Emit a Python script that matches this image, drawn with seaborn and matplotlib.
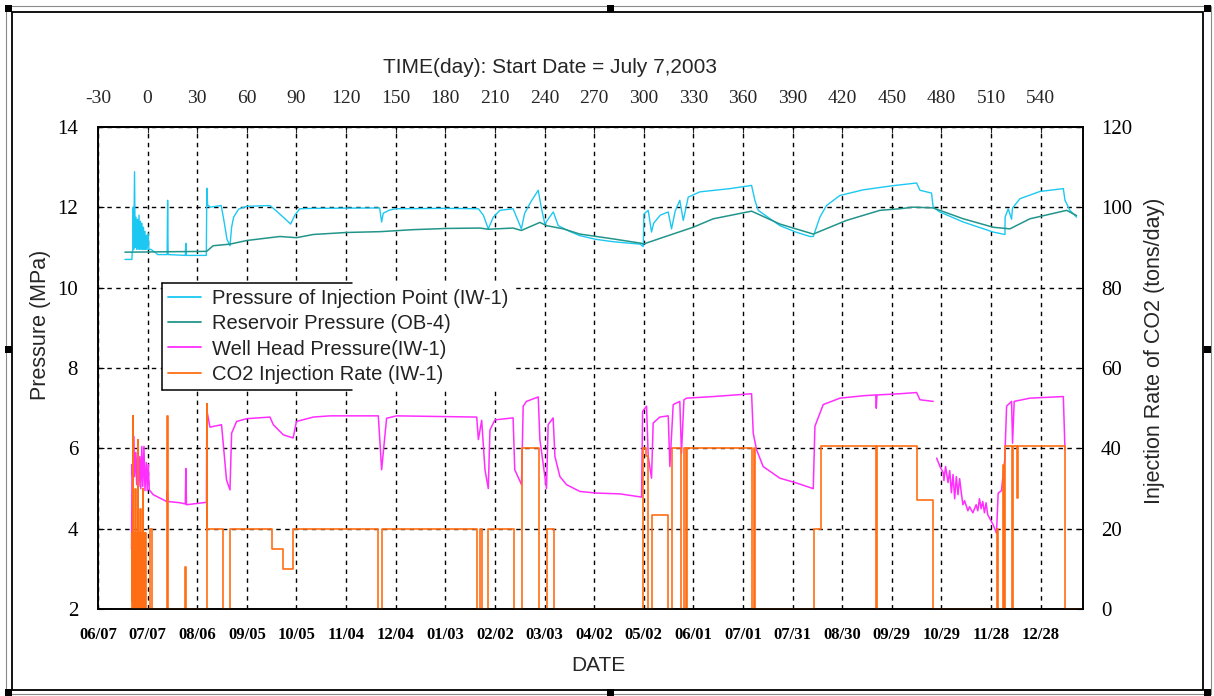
import numpy as np
import pandas as pd
import matplotlib
matplotlib.use("Agg")
import matplotlib.pyplot as plt
from matplotlib.lines import Line2D
from matplotlib.patches import Rectangle
import seaborn as sns

# ------------------------------------------------------------------ data
tick_days = [-30, 0, 30, 60, 90, 120, 150, 180, 210, 240, 270, 300, 330, 360,
             390, 420, 450, 480, 510, 540]
top_labels = [str(d) for d in tick_days]
date_labels = ["06/07", "07/07", "08/06", "09/05", "10/05", "11/04", "12/04",
               "01/03", "02/02", "03/03", "04/02", "05/02", "06/01", "07/01",
               "07/31", "08/30", "09/29", "10/29", "11/28", "12/28"]
p_ticks = [2, 4, 6, 8, 10, 12, 14]
r_ticks = [0, 20, 40, 60, 80, 100, 120]

series_names = ["Pressure of Injection Point (IW-1)", "Reservoir Pressure (OB-4)",
                "Well Head Pressure(IW-1)", "CO2 Injection Rate (IW-1)"]

# Pressure of injection point (MPa)
inj_days = [-13.7, -9.5, -9.3, -9.0, -8.7, -8.4, -7.9, -7.5, -7.0, -6.6, -6.1, -5.7,
            -5.2, -4.8, -4.3, -3.9, -3.4, -3.0, -2.5, -2.1, -1.6, -1.2, -0.7, -0.3,
            0.3, 0.8, 2.0, 5.4, 6.0, 11.8, 12.1, 12.4, 22.8, 23.1, 23.4, 35.5,
            35.8, 36.3, 38.0, 44.5, 46.0, 48.0, 49.8, 50.8, 52.0, 55.0, 60.0, 74.0,
            78.0, 82.0, 86.5, 89.0, 92.0, 100.0, 140.3, 141.5, 142.5, 146.5, 150.0,
            180.0, 200.0, 203.0, 206.0, 209.0, 213.0, 221.0, 226.0, 228.0, 232.0,
            236.2, 238.0, 240.2, 243.0, 245.3, 248.3, 255.0, 261.4, 271.0, 281.5,
            297.7, 299.7, 300.1, 302.7, 304.7, 306.0, 310.0, 314.8, 316.8, 319.0,
            321.8, 323.9, 326.9, 334.0, 352.0, 365.2, 367.2, 369.2, 382.3, 392.0,
            400.5, 402.5, 406.5, 410.5, 418.6, 432.7, 450.0, 465.0, 467.0, 474.0,
            475.0, 479.0, 493.2, 511.3, 518.4, 518.5, 520.4, 522.4, 523.0, 527.5,
            539.6, 553.7, 554.7, 557.7, 561.7]
inj_p = [10.70, 10.70, 10.90, 10.90, 12.00, 10.95, 12.88, 11.00, 11.75, 10.95, 11.70, 10.95,
         11.80, 10.95, 11.65, 10.95, 11.60, 10.95, 11.50, 10.95, 11.40, 10.95, 11.30, 10.95,
         11.35, 10.95, 10.95, 10.85, 10.82, 10.82, 12.17, 10.82, 10.80, 11.10, 10.80, 10.80,
         12.47, 12.05, 12.00, 12.04, 11.70, 11.20, 11.04, 11.50, 11.75, 11.95, 12.02, 12.04,
         11.90, 11.75, 11.58, 11.80, 11.96, 11.97, 11.98, 11.63, 11.85, 11.93, 11.96,
         11.97, 11.96, 11.80, 11.46, 11.75, 11.92, 11.96, 11.46, 11.85, 12.15,
         12.42, 12.00, 11.58, 11.75, 11.88, 11.54, 11.40, 11.29, 11.20, 11.14,
         11.08, 11.02, 11.83, 11.92, 11.38, 11.60, 11.80, 11.88, 11.46, 11.90,
         12.17, 11.67, 12.25, 12.38, 12.46, 12.54, 12.17, 11.92, 11.54, 11.38,
         11.27, 11.27, 11.75, 12.04, 12.29, 12.43, 12.53, 12.60, 12.42, 12.35,
         12.00, 11.88, 11.63, 11.38, 11.32, 11.75, 11.96, 11.70, 11.98, 12.21,
         12.39, 12.46, 12.17, 11.92, 11.75]

# Reservoir pressure (MPa)
res_days = [-13.7, 35.7, 39.6, 49.8, 59.9, 80.0, 90.0, 100.2, 120.3, 140.5, 160.6,
            180.8, 201.0, 206.0, 221.0, 226.0, 237.2, 241.2, 251.3, 261.4, 281.5,
            298.7, 299.7, 311.8, 329.9, 342.0, 365.2, 382.3, 402.5, 422.6, 442.8,
            454.9, 463.0, 475.0, 493.2, 511.3, 521.4, 533.5, 555.7, 561.7]
res_p = [10.88, 10.90, 11.04, 11.08, 11.17, 11.27, 11.24, 11.32, 11.37, 11.39, 11.44,
         11.47, 11.48, 11.45, 11.48, 11.42, 11.62, 11.54, 11.46, 11.33, 11.21,
         11.10, 11.08, 11.25, 11.50, 11.71, 11.90, 11.58, 11.33, 11.67, 11.92,
         11.96, 12.00, 11.98, 11.71, 11.50, 11.46, 11.71, 11.92, 11.79]

# Well head pressure (MPa), two recorded segments
wh1_days = [-9.7, -9.4, -8.9, -8.3, -7.9, -7.2, -6.6, -5.9, -5.3, -4.7, -4.1, -3.5,
            -2.9, -2.2, -1.6, -0.8, -0.2, 0.4, 1.0, 3.4, 11.5, 11.9, 12.3, 19.6,
            22.8, 23.1, 23.5, 35.6, 35.8, 37.7, 44.7, 47.7, 49.8, 50.8, 53.8, 59.9,
            74.0, 76.0, 82.0, 88.0, 90.0, 100.2, 110.2, 139.5, 141.5, 144.5, 150.5,
            199.0, 200.0, 202.0, 204.0, 206.0, 207.0, 210.0, 221.0, 222.0, 226.1,
            227.1, 229.1, 236.2, 237.2, 241.2, 242.2, 245.2, 246.3, 249.3, 253.3,
            261.4, 271.4, 285.6, 298.7, 299.3, 301.7, 302.7, 304.7, 305.7, 309.7,
            314.8, 315.8, 317.8, 321.8, 322.8, 324.3, 325.9, 342.0, 365.2, 366.2,
            368.2, 372.2, 382.3, 392.4, 402.5, 403.5, 408.5, 418.6, 432.7, 440.3,
            440.6, 441.0, 454.9, 465.0, 467.0, 475.0]
wh1_p = [3.50, 5.60, 5.20, 6.30, 5.30, 5.90, 5.10, 6.05, 5.05, 5.80, 5.00, 6.05,
         5.05, 6.05, 4.95, 5.65, 4.95, 5.60, 4.97, 4.85, 4.68, 4.95, 4.68, 4.65,
         4.62, 5.50, 4.60, 4.66, 6.95, 6.53, 6.59, 5.22, 4.97, 6.38, 6.67, 6.74,
         6.78, 6.59, 6.34, 6.26, 6.67, 6.78, 6.81, 6.81, 5.47, 6.75, 6.81,
         6.78, 6.22, 6.70, 5.47, 5.00, 6.46, 6.71, 6.76, 5.47, 5.10,
         7.05, 7.17, 7.28, 6.22, 5.00, 6.59, 6.76, 5.80, 5.30, 5.10,
         4.93, 4.89, 4.87, 4.79, 6.92, 7.05, 5.80, 5.26, 6.63, 6.78,
         6.81, 5.55, 7.09, 7.17, 5.88, 7.21, 7.25, 7.29, 7.36, 6.38,
         5.97, 5.55, 5.26, 5.14, 5.00, 6.55, 7.09, 7.25, 7.31, 7.33,
         7.00, 7.33, 7.36, 7.39, 7.21, 7.17]
wh2_days = [477.1, 479.1, 481.1, 481.5, 482.5, 484.0, 485.0, 486.0, 487.0, 488.0,
            489.0, 490.0, 491.0, 492.0, 493.0, 494.0, 496.0, 497.0, 499.0, 501.0,
            502.0, 503.0, 504.0, 505.0, 506.0, 507.0, 508.0, 510.0, 511.3, 513.3,
            514.3, 516.3, 518.3, 519.4, 522.4, 523.0, 524.0, 533.5, 553.7, 554.7]
wh2_p = [5.76, 5.55, 5.40, 5.20, 5.55, 5.15, 5.45, 4.90, 5.35, 4.75,
         5.30, 4.85, 5.25, 4.90, 4.60, 4.70, 4.45, 4.55, 4.40, 4.60,
         4.45, 4.75, 4.50, 4.68, 4.40, 4.65, 4.35, 4.20, 4.10, 3.89,
         4.89, 4.95, 5.72, 7.05, 7.17, 6.13, 7.17, 7.25, 7.29, 5.97]

# CO2 injection rate (tons/day), value held until next day
rate_days = [-9.7, -9.45, -9.2, -8.95, -8.7, -8.45, -8.2, -7.95, -7.7, -7.45,
             -7.2, -6.95, -6.7, -6.45, -6.2, -5.95, -5.7, -5.45, -5.2, -4.95,
             -4.7, -4.45, -4.2, -3.95, -3.7, -3.45, -3.2, -2.95, -2.7, -2.45,
             -2.2, -1.95, -1.7, -1.45, -1.2, -0.95, -0.7,
             1.4, 2.9, 11.9, 12.4, 22.9, 23.3, 35.7, 36.0, 45.8,
             49.8, 75.0, 81.6, 88.2, 139.5, 141.5, 199.0, 200.9, 202.3, 205.9, 221.5,
             226.5, 236.8, 241.2, 245.6, 299.3, 301.1, 302.7, 304.7, 314.8, 317.2,
             322.8, 324.3, 325.5, 326.0, 365.5, 366.5, 367.5, 402.9, 406.9, 440.3,
             441.0, 465.0, 474.6, 513.8, 514.5, 517.3, 518.0, 518.7, 522.4, 523.4,
             525.5, 526.2, 554.7, 565.0]
rate_vals = [0, 19, 2, 48, 0, 19, 5, 19, 0, 30,
             3, 19, 0, 19, 6, 42, 0, 19, 2, 19,
             0, 25, 4, 19, 0, 19, 3, 30, 0, 19,
             5, 19, 0, 19, 2, 19, 0,
             20, 0, 48, 0, 10.5, 0, 51, 20, 0,
             20, 15, 10, 20, 0, 20, 0, 20, 0, 20, 0,
             40, 0, 20, 0, 40, 38, 0, 23.5, 0, 40,
             0, 40, 0, 40, 0, 40, 0, 20, 40.6, 0,
             40.6, 27.2, 0, 20, 0, 36, 0, 40.5, 0, 40.5,
             27.6, 40.5, 0, 0]

# ------------------------------------------------------------------ frames
df_inj = pd.DataFrame({"day": inj_days, "p": inj_p})
df_res = pd.DataFrame({"day": res_days, "p": res_p})
df_wh = pd.concat([pd.DataFrame({"day": wh1_days, "p": wh1_p, "seg": 1}),
                   pd.DataFrame({"day": wh2_days, "p": wh2_p, "seg": 2})],
                  ignore_index=True)
df_rate = pd.DataFrame({"day": rate_days, "r": rate_vals})

# ------------------------------------------------------------------ style
sns.set_style("white")
plt.rcParams["font.family"] = ["Liberation Sans", "DejaVu Sans"]
SERIF = ["Liberation Serif", "DejaVu Serif"]

C_INJ = "#1CC8F2"
C_RES = "#22958B"
C_WH = "#FF2EFF"
C_RATE = "#FF6E14"

W, H = 1214, 696
fig = plt.figure(figsize=(W / 100, H / 100), dpi=100)
ax_l, ax_r, ax_t, ax_b = 97.5, 1083.0, 126.7, 609.3
ax = fig.add_axes([ax_l / W, 1 - ax_b / H, (ax_r - ax_l) / W, (ax_b - ax_t) / H])
ax2 = ax.twinx()

sns.lineplot(data=df_wh, x="day", y="p", units="seg", estimator=None, sort=False,
             color=C_WH, lw=1.1, ax=ax, legend=False)
sns.lineplot(data=df_inj, x="day", y="p", estimator=None, sort=False,
             color=C_INJ, lw=1.0, ax=ax, legend=False)
sns.lineplot(data=df_res, x="day", y="p", estimator=None, sort=False,
             color=C_RES, lw=1.1, ax=ax, legend=False)
sns.lineplot(data=df_rate, x="day", y="r", estimator=None, sort=False,
             drawstyle="steps-post", color=C_RATE, lw=1.2, ax=ax2, legend=False)

ax.set_xlim(-30.3, 565.6)
ax.set_ylim(2, 14)
ax2.set_ylim(0, 120)

ax.set_xticks(tick_days)
ax.set_xticklabels(date_labels, fontfamily=SERIF, fontweight="bold", fontsize=12)
ax.set_yticks(p_ticks)
ax.set_yticklabels([str(v) for v in p_ticks], fontfamily=SERIF, fontsize=15)
ax2.set_yticks(r_ticks)
ax2.set_yticklabels([str(v) for v in r_ticks], fontfamily=SERIF, fontsize=15)

ax.grid(True, color="black", linestyle=(0, (3.2, 3.2)), lw=1.0)
ax.tick_params(axis="x", direction="in", length=4, pad=13, colors="black")
ax.tick_params(axis="y", direction="in", length=4, pad=14, colors="black")
ax2.tick_params(axis="y", direction="in", length=4, pad=13, colors="black")

sec = ax.secondary_xaxis("top")
sec.set_xticks(tick_days)
sec.set_xticklabels(top_labels, fontfamily=SERIF, fontsize=14)
sec.tick_params(direction="in", length=4, pad=14)

for a in (ax, ax2):
    for s in a.spines.values():
        s.set_color("black")
        s.set_linewidth(1.2)
for s in sec.spines.values():
    s.set_linewidth(1.2)

ax.set_xlabel("DATE", fontsize=15)
ax.xaxis.set_label_coords(0.508, -0.097)
ax.set_ylabel("Pressure (MPa)", fontsize=15.5)
ax.yaxis.set_label_coords(-0.047, 0.589)
ax2.set_ylabel("Injection Rate of CO2 (tons/day)", fontsize=15.5)
ax2.yaxis.set_label_coords(1.062, 0.535)

fig.text(550 / W, 1 - 67.5 / H, "TIME(day): Start Date = July 7,2003",
         ha="center", va="center", fontsize=15)

handles = [Line2D([], [], color=c, lw=1.3) for c in (C_INJ, C_RES, C_WH, C_RATE)]
leg = ax2.legend(handles, series_names, loc="upper left",
                 bbox_to_anchor=((161.7 - ax_l) / (ax_r - ax_l), 1 - (283 - ax_t) / (ax_b - ax_t)),
                 borderaxespad=0, fontsize=14.5, frameon=True, fancybox=False,
                 framealpha=1, facecolor="white", edgecolor="none",
                 handlelength=1.65, handletextpad=0.55, borderpad=0.3,
                 labelspacing=0.31)
for t in leg.get_texts():
    t.set_color("#222222")

# partial legend frame (left side, and top/bottom up to ~190 px)
fig.canvas.draw()
bb = leg.get_window_extent()
x0, y0, y1 = bb.x0, bb.y0, bb.y1
xe = x0 + 190
for xs, ys in (([x0, x0], [y0, y1]), ([x0, xe], [y1, y1]), ([x0, xe], [y0, y0])):
    fig.add_artist(Line2D([v / W for v in xs], [v / H for v in ys],
                          color="black", lw=1.1, transform=fig.transFigure))

# outer page frame with handles
def fx(x):
    return x / W

def fy(y):
    return 1 - y / H

fig.add_artist(Rectangle((fx(5.7), fy(694.0)), fx(1210.7) - fx(5.7), fy(5.7) - fy(694.0),
                         fill=False, edgecolor="#8a8a8a", lw=0.8, transform=fig.transFigure))
fig.add_artist(Rectangle((fx(12.3), fy(690.0)), fx(1202.7) - fx(12.3), fy(12.3) - fy(690.0),
                         fill=False, edgecolor="black", lw=1.3, transform=fig.transFigure))
for hx, hy in ((5, 5), (607, 5), (1204, 5), (5, 346), (1204, 346),
               (5, 689), (607, 689), (1204, 689)):
    fig.add_artist(Rectangle((fx(hx), fy(hy + 7)), 7 / W, 7 / H, facecolor="black",
                             edgecolor="none", transform=fig.transFigure))

fig.savefig("out.png", dpi=100)
